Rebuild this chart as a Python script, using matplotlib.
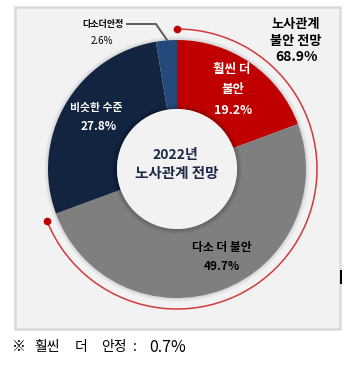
import matplotlib
matplotlib.use("Agg")
import matplotlib.pyplot as plt
from matplotlib.patches import Rectangle, Circle, Arc
import numpy as np

plt.rcParams['font.family'] = ['Noto Sans CJK KR', 'DejaVu Sans']

# data
categories = ["훨씬 더 불안", "다소 더 불안", "비슷한 수준", "다소 더 안정"]
values = [19.2, 49.7, 27.8, 2.6]
colors = ["#c00000", "#7f7f7f", "#132440", "#244a7b"]
unrest_total = 68.9
hidden_label = "훨씬 더 안정"
hidden_value = 0.7

W, H = 358, 371
fig = plt.figure(figsize=(W / 100, H / 100), dpi=100)
ax = fig.add_axes([0, 0, 1, 1])

def Y(y):
    return H - y

# panel
ax.add_patch(Rectangle((15, Y(329)), 325, 322, facecolor="#f2f2f2",
                       edgecolor="#dadada", lw=1.8, zorder=0))
ax.add_patch(Rectangle((340, Y(284)), 2.2, 14, facecolor="black", edgecolor="none", zorder=1))

cx, cy = 177, Y(169)
Ro, Ri = 129, 60

# outer soft shadow
for k in range(5):
    ax.add_patch(Circle((cx, cy), Ro + 0.6 + k * 0.8, facecolor="black",
                        alpha=0.022, edgecolor="none", zorder=1))
ax.add_patch(Circle((cx, cy), Ri, facecolor="#f2f2f2", edgecolor="none", zorder=1.5))

ax.pie(values, colors=colors, startangle=90, counterclock=False,
       center=(cx, cy), radius=Ro, frame=True,
       wedgeprops=dict(width=Ro - Ri, edgecolor="none", zorder=2))
ax.set_xlim(0, W)
ax.set_ylim(0, H)
ax.set_aspect('equal')
ax.axis('off')

# inner shadow on donut edge
for k in range(6):
    ax.add_patch(Circle((cx, cy), Ri + 0.5 + k * 0.9, facecolor="black",
                        alpha=0.035, edgecolor="none", zorder=3))
ax.add_patch(Circle((cx, cy), Ri, facecolor="#f2f2f2", edgecolor="none", zorder=3.5))

# red arc covering the unrest share
Ra = 140
sweep = unrest_total / 100 * 360
ax.add_patch(Arc((cx, cy), 2 * Ra, 2 * Ra, theta1=90 - sweep, theta2=90,
                 color="#d23a3a", lw=1.1, zorder=4))
a_end = np.deg2rad(90 - sweep)
ax.plot([cx, cx + Ra * np.cos(a_end)], [cy + Ra, cy + Ra * np.sin(a_end)],
        'o', color="#c00000", ms=4.5, zorder=5, ls='none')

# leader line for small slice
ax.plot([127, 156, 167], [Y(24), Y(24), Y(40)], color="#5a5a5a", lw=1.4, zorder=4)

def t(x, y, s, size, color="black", weight="bold", ha='center'):
    ax.text(x, Y(y), s, fontsize=size, color=color, weight=weight,
            ha=ha, va='center', zorder=6)

t(296, 24, "노사관계", 9.5)
t(296, 41, "불안 전망", 9.5)
t(296, 57, f"{unrest_total}%", 10)

t(232, 70, "훨씬 더", 9, "white")
t(233, 90, "불안", 9, "white")
t(233, 110, f"{values[0]}%", 9, "white")

t(96, 108, categories[2], 7.8, "white")
t(99, 127, f"{values[2]}%", 8.5, "white")

t(103, 24, "다소더안정", 6.5)
t(102, 41, f"{values[3]}%", 7, weight="normal")

t(175, 155, "2022년", 10, "#1c2a48")
t(177, 173, "노사관계 전망", 10.5, "#1c2a48")

t(222, 247, categories[1], 8.5)
t(222, 267, f"{values[1]}%", 8.5)

# footnote (spaced like the original)
foot_parts = ["※", "훨씬", "더", "안정", ":", f"{hidden_value}%"]
foot_x = [18.5, 47, 81.5, 113.5, 135, 167.5]
for part, fx in zip(foot_parts, foot_x):
    ax.text(fx, Y(347), part, fontsize=10 if part != foot_parts[-1] else 11.5,
            color="black", ha='center', va='center', zorder=6)

fig.savefig("out.png", dpi=100)
